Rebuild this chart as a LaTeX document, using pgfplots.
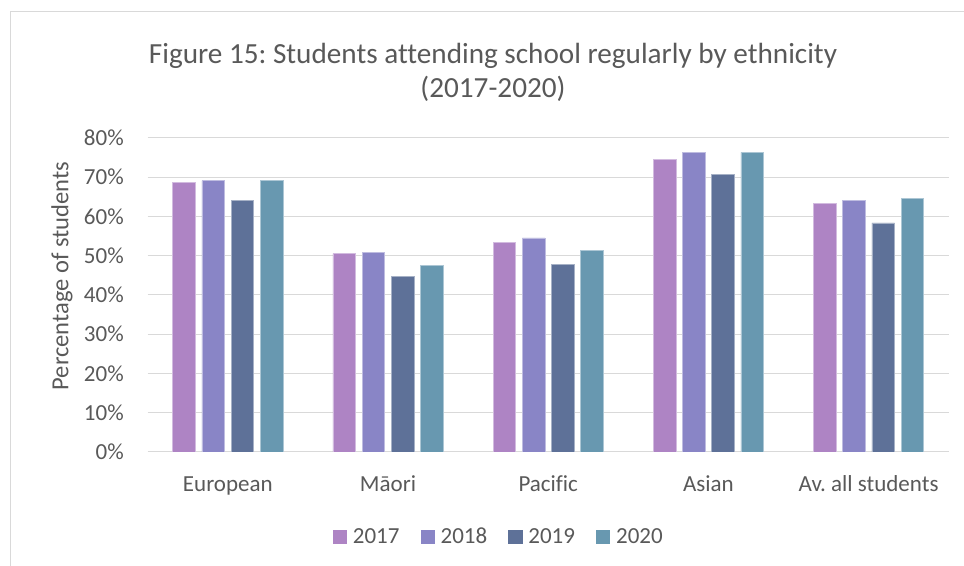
\documentclass[border=0pt]{standalone}
\usepackage{fontspec}
\setmainfont[Ligatures=NoCommon]{Carlito}
\usepackage{pgfplots}
\pgfplotsset{compat=1.18}

\definecolor{c17}{HTML}{AE84C4}
\definecolor{c18}{HTML}{8985C6}
\definecolor{c19}{HTML}{5E7198}
\definecolor{c20}{HTML}{6898B0}
\definecolor{txtgray}{HTML}{595959}
\definecolor{gridgray}{HTML}{D9D9D9}

\frenchspacing
\begin{document}
\begin{tikzpicture}[x=1pt,y=1pt]
% page: 964x566 px at 0.75pt per px
\useasboundingbox (0,0) rectangle (723,424.5);
\draw[gridgray, line width=0.75pt] (7.5,-1) -- (7.5,415.5) -- (724,415.5);

\node[anchor=base, text=txtgray, font=\fontsize{21.9}{26}\selectfont] at (369.75,376.5)
  {Figure 15: Students attending school regularly by ethnicity};
\node[anchor=base, text=txtgray, font=\fontsize{21.9}{26}\selectfont] at (369.75,351)
  {(2017-2020)};
\node[rotate=90, text=txtgray, font=\fontsize{18.4}{22}\selectfont] at (46.5,217.5)
  {Percentage of students};

\begin{axis}[
  at={(110.8pt,85.5pt)}, anchor=south west,
  width=600.75pt, height=235.7pt, scale only axis,
  ybar=4.9pt, bar width=17pt,
  xmin=-0.5, xmax=4.5, ymin=0, ymax=80,
  xtick={0,1,2,3,4},
  xticklabels={European, Māori, Pacific, Asian, Av. all students},
  ytick={0,10,20,30,40,50,60,70,80},
  yticklabels={0\%,10\%,20\%,30\%,40\%,50\%,60\%,70\%,80\%},
  axis line style={draw=none},
  major tick length=0pt, tick style={draw=none},
  ymajorgrids, major grid style={gridgray, line width=0.75pt},
  ticklabel style={text=txtgray, font=\fontsize{17.25}{20}\selectfont},
  xticklabel style={anchor=base, yshift=-29.8pt},
  yticklabel style={anchor=east, inner sep=0pt, xshift=-17.8pt},
  legend columns=4,
  legend style={at={(0.437,-0.2704)}, anchor=center, draw=none, fill=none,
    inner sep=0pt, text=txtgray, font=\fontsize{17.25}{20}\selectfont,
    nodes={inner sep=0pt},
    /tikz/every odd column/.append style={column sep=4.5pt},
    /tikz/every even column/.append style={column sep=15.75pt}},
]
\addplot[fill=c17, draw=c17!55!white, line width=0.6pt,
  legend image code/.code={\fill[c17] (0pt,-5pt) rectangle (10pt,5pt);}]
  coordinates {(0,68.6) (1,50.5) (2,53.4) (3,74.5) (4,63.3)};
\addplot[fill=c18, draw=c18!55!white, line width=0.6pt,
  legend image code/.code={\fill[c18] (0pt,-5pt) rectangle (10pt,5pt);}]
  coordinates {(0,69.1) (1,50.8) (2,54.5) (3,76.2) (4,64.0)};
\addplot[fill=c19, draw=c19!55!white, line width=0.6pt,
  legend image code/.code={\fill[c19] (0pt,-5pt) rectangle (10pt,5pt);}]
  coordinates {(0,64.0) (1,44.7) (2,47.8) (3,70.7) (4,58.3)};
\addplot[fill=c20, draw=c20!55!white, line width=0.6pt,
  legend image code/.code={\fill[c20] (0pt,-5pt) rectangle (10pt,5pt);}]
  coordinates {(0,69.1) (1,47.5) (2,51.2) (3,76.3) (4,64.6)};
\legend{2017,2018,2019,2020}
\end{axis}
\end{tikzpicture}
\end{document}
